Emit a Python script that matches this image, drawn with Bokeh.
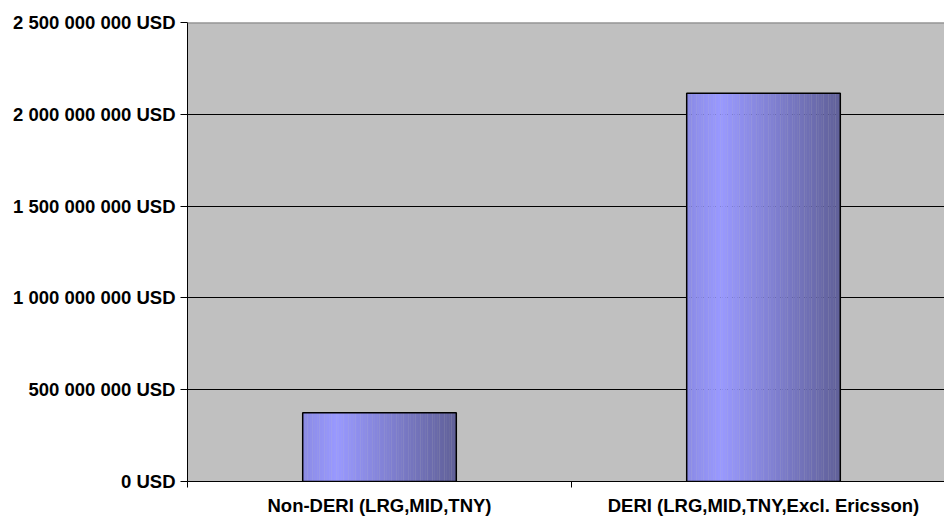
from bokeh.plotting import figure
from bokeh.models import Range1d, FixedTicker, Span
from bokeh.embed import file_html
from bokeh.resources import INLINE

# Sales by segment (USD)
categories = ["Non-DERI (LRG,MID,TNY)", "DERI (LRG,MID,TNY,Excl. Ericsson)"]
values = [375_000_000, 2_115_000_000]
y_ticks = [0, 500_000_000, 1_000_000_000, 1_500_000_000, 2_000_000_000, 2_500_000_000]
y_tick_labels = ["0 USD", "500 000 000 USD", "1 000 000 000 USD",
                 "1 500 000 000 USD", "2 000 000 000 USD", "2 500 000 000 USD"]

FONT = "Liberation Sans"
FONT_SIZE = "18.5px"
BAR_W = 0.4
N_STRIPS = 64

p = figure(width=944, height=518, output_backend="svg", toolbar_location=None,
           x_range=Range1d(0, 757 / 384), y_range=Range1d(0, 2_500_000_000),
           min_border_left=187, min_border_top=22, min_border_bottom=36,
           min_border_right=0)
p.background_fill_color = "#C0C0C0"
p.border_fill_color = "white"
p.outline_line_color = None

# horizontal shaded fill: light at ~22% of the width, darker to the right
def shade(t):
    lo = (138, 138, 228)
    hi = (153, 153, 255)
    dk = (96, 96, 152)
    if t < 0.22:
        f = t / 0.22
        c = [lo[i] + (hi[i] - lo[i]) * f for i in range(3)]
    else:
        f = (t - 0.22) / 0.78
        c = [hi[i] + (dk[i] - hi[i]) * f for i in range(3)]
    return "#%02x%02x%02x" % tuple(int(round(v)) for v in c)

sl, sr, st, sb, sc = [], [], [], [], []
for i, v in enumerate(values):
    x0 = i + 0.5 - BAR_W / 2
    w = BAR_W / N_STRIPS
    for k in range(N_STRIPS):
        sl.append(x0 + k * w)
        sr.append(x0 + (k + 1) * w + 0.0005)
        st.append(v)
        sb.append(0)
        sc.append(shade((k + 0.5) / N_STRIPS))
p.quad(left=sl, right=sr, top=st, bottom=sb, fill_color=sc, line_color=None)

# bar outlines
centers = [i + 0.5 for i in range(len(values))]
p.quad(left=[c - BAR_W / 2 for c in centers], right=[c + BAR_W / 2 for c in centers],
       top=values, bottom=[0] * len(values), fill_color=None,
       line_color="black", line_width=1.5)

p.add_layout(Span(location=2_500_000_000, dimension="width",
                  line_color="#808080", line_width=2))

# y axis
p.yaxis.ticker = FixedTicker(ticks=y_ticks)
p.yaxis.major_label_overrides = {t: s for t, s in zip(y_ticks, y_tick_labels)}
p.yaxis.major_label_text_font = FONT
p.yaxis.major_label_text_font_style = "bold"
p.yaxis.major_label_text_font_size = FONT_SIZE
p.yaxis.major_label_text_color = "black"
p.yaxis.major_tick_out = 7
p.yaxis.major_tick_in = 0
p.yaxis.minor_tick_out = 0
p.yaxis.major_label_standoff = 5
p.yaxis.axis_line_color = "black"
p.yaxis.major_tick_line_color = "black"

# x axis: labels at category centres, tick marks between categories
p.xaxis.ticker = FixedTicker(ticks=centers, minor_ticks=[0, 1, 2])
p.xaxis.major_label_overrides = {c: s for c, s in zip(centers, categories)}
p.xaxis.major_label_text_font = FONT
p.xaxis.major_label_text_font_style = "bold"
p.xaxis.major_label_text_font_size = FONT_SIZE
p.xaxis.major_label_text_color = "black"
p.xaxis.major_tick_out = 0
p.xaxis.major_tick_in = 0
p.xaxis.minor_tick_out = 6
p.xaxis.minor_tick_in = 0
p.xaxis.minor_tick_line_color = "black"
p.xaxis.major_label_standoff = 7
p.xaxis.axis_line_color = "black"

p.xgrid.grid_line_color = None
p.ygrid.ticker = FixedTicker(ticks=y_ticks)
p.ygrid.grid_line_color = "black"
p.ygrid.grid_line_width = 1

open("out.html", "w").write(file_html(p, INLINE))
